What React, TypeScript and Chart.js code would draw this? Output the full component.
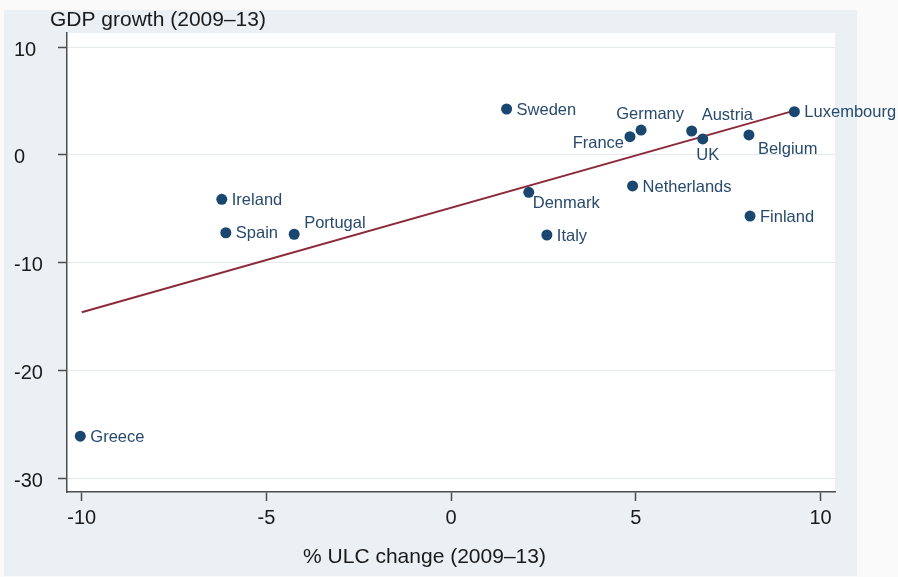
import React, { useEffect, useRef } from 'react';
import { Chart, registerables } from 'chart.js';

Chart.register(...registerables);

// ---------- data ----------
const countries = [
  'Greece', 'Ireland', 'Spain', 'Portugal', 'Sweden', 'Denmark', 'Italy', 'France',
  'Germany', 'Netherlands', 'Austria', 'UK', 'Belgium', 'Finland', 'Luxembourg',
];
const ulcChange = [-10.04, -6.21, -6.1, -4.25, 1.5, 2.1, 2.59, 4.84, 5.14, 4.91, 6.51, 6.81, 8.06, 8.09, 9.29];
const gdpGrowth = [-26.1, -4.13, -7.23, -7.37, 4.25, -3.48, -7.44, 1.68, 2.3, -2.89, 2.21, 1.47, 1.84, -5.68, 4.0];

const fitX = [-10, 9.29];
const fitY = [-14.6, 4.1];

const xTicks = [-10, -5, 0, 5, 10];
const yTicks = [-30, -20, -10, 0, 10];

const xTitle = '% ULC change (2009–13)';
const yTitle = 'GDP growth (2009–13)';

// ---------- styles ----------
const FONT = "'Liberation Sans', Arial, Helvetica, sans-serif";
const NAVY = '#1a476f';
const LABEL_COLOR = '#274a6d';
const AXIS_COLOR = '#4d4d4d';

// marker label position (clock position, Stata style)
const labelClock: Record<string, number> = {
  Greece: 3, Ireland: 3, Spain: 3, Portugal: 2, Sweden: 3, Denmark: 5, Italy: 3,
  France: 8, Germany: 12, Netherlands: 3, Austria: 1, UK: 6, Belgium: 4, Finland: 3, Luxembourg: 3,
};

const clockStyle: Record<number, { align: CanvasTextAlign; dx: number; dy: number }> = {
  1: { align: 'left', dx: 10, dy: -17 },
  2: { align: 'left', dx: 10, dy: -12 },
  3: { align: 'left', dx: 10, dy: 0 },
  4: { align: 'left', dx: 9, dy: 13 },
  5: { align: 'left', dx: 4, dy: 10 },
  6: { align: 'center', dx: 5, dy: 15 },
  8: { align: 'right', dx: -6, dy: 6 },
  9: { align: 'right', dx: -10, dy: 0 },
  12: { align: 'center', dx: 9, dy: -17 },
};

const backgroundPlugin = {
  id: 'stataBackground',
  beforeDraw(chart: any) {
    const { ctx, chartArea } = chart;
    ctx.save();
    ctx.fillStyle = '#fafafa';
    ctx.fillRect(0, 0, chart.width, chart.height);
    ctx.fillStyle = '#eaf0f3';
    ctx.fillRect(4, 10, 853, 566);
    ctx.fillStyle = '#ffffff';
    ctx.fillRect(chartArea.left, chartArea.top, chartArea.right - chartArea.left, chartArea.bottom - chartArea.top);
    ctx.restore();
  },
};

const labelPlugin = {
  id: 'pointLabels',
  afterDatasetsDraw(chart: any) {
    const { ctx } = chart;
    const meta = chart.getDatasetMeta(0);
    ctx.save();
    ctx.font = `16.5px ${FONT}`;
    ctx.fillStyle = LABEL_COLOR;
    ctx.textBaseline = 'middle';
    meta.data.forEach((el: any, i: number) => {
      const name = countries[i];
      const st = clockStyle[labelClock[name] ?? 3];
      ctx.textAlign = st.align;
      ctx.fillText(name, el.x + st.dx, el.y + st.dy + 1);
    });
    ctx.restore();
  },
};

const titlePlugin = {
  id: 'axisTitles',
  afterDraw(chart: any) {
    const { ctx } = chart;
    ctx.save();
    ctx.font = `21px ${FONT}`;
    ctx.fillStyle = '#1a1a1a';
    ctx.textBaseline = 'alphabetic';
    ctx.textAlign = 'left';
    ctx.fillText(yTitle, 50, 25.5);
    ctx.textAlign = 'center';
    ctx.fillText(xTitle, 424.5, 562.5);
    ctx.restore();
  },
};

export default function App() {
  const ref = useRef<HTMLCanvasElement>(null);

  useEffect(() => {
    document.body.style.margin = '0';
    const canvas = ref.current;
    if (!canvas) return;
    const chart = new Chart(canvas, {
      type: 'scatter',
      data: {
        datasets: [
          {
            type: 'scatter',
            data: countries.map((_, i) => ({ x: ulcChange[i], y: gdpGrowth[i] })),
            backgroundColor: NAVY,
            borderColor: NAVY,
            borderWidth: 0,
            pointRadius: 5.5,
            pointHoverRadius: 5.5,
            order: 0,
          },
          {
            type: 'line',
            data: fitX.map((x, i) => ({ x, y: fitY[i] })),
            borderColor: '#8c2a3a',
            borderWidth: 2,
            pointRadius: 0,
            fill: false,
            tension: 0,
            order: 1,
          },
        ],
      } as any,
      options: {
        responsive: false,
        animation: false,
        events: [],
        layout: { padding: { left: 14, top: 33, right: 63, bottom: 0 } },
        plugins: {
          legend: { display: false },
          tooltip: { enabled: false },
          title: { display: false },
        },
        scales: {
          x: {
            type: 'linear',
            min: -10.4,
            max: 10.39,
            afterBuildTicks: (s: any) => {
              s.ticks = xTicks.map((v) => ({ value: v }));
            },
            afterFit: (s: any) => {
              s.height = 85;
            },
            grid: {
              drawOnChartArea: false,
              drawTicks: true,
              tickLength: 9,
              tickColor: AXIS_COLOR,
              tickWidth: 1.5,
            },
            border: { display: true, color: AXIS_COLOR, width: 1.5 },
            ticks: {
              font: { family: FONT, size: 20 },
              color: '#1a1a1a',
              padding: 5,
              maxRotation: 0,
              autoSkip: false,
            },
          },
          y: {
            type: 'linear',
            min: -31.28,
            max: 11.3,
            afterBuildTicks: (s: any) => {
              s.ticks = yTicks.map((v) => ({ value: v }));
            },
            afterFit: (s: any) => {
              s.width = 53;
            },
            grid: {
              color: '#e3e9ed',
              lineWidth: 1,
              drawTicks: true,
              tickLength: 9,
              tickColor: AXIS_COLOR,
              tickWidth: 1.5,
            },
            border: { display: true, color: AXIS_COLOR, width: 1.5 },
            ticks: {
              font: { family: FONT, size: 20 },
              color: '#1a1a1a',
              crossAlign: 'far',
              labelOffset: 3,
              autoSkip: false,
            },
          },
        },
      } as any,
      plugins: [backgroundPlugin, labelPlugin, titlePlugin],
    });
    return () => chart.destroy();
  }, []);

  return (
    <canvas
      ref={ref}
      width={898}
      height={577}
      style={{ display: 'block', width: 898, height: 577 }}
    />
  );
}
